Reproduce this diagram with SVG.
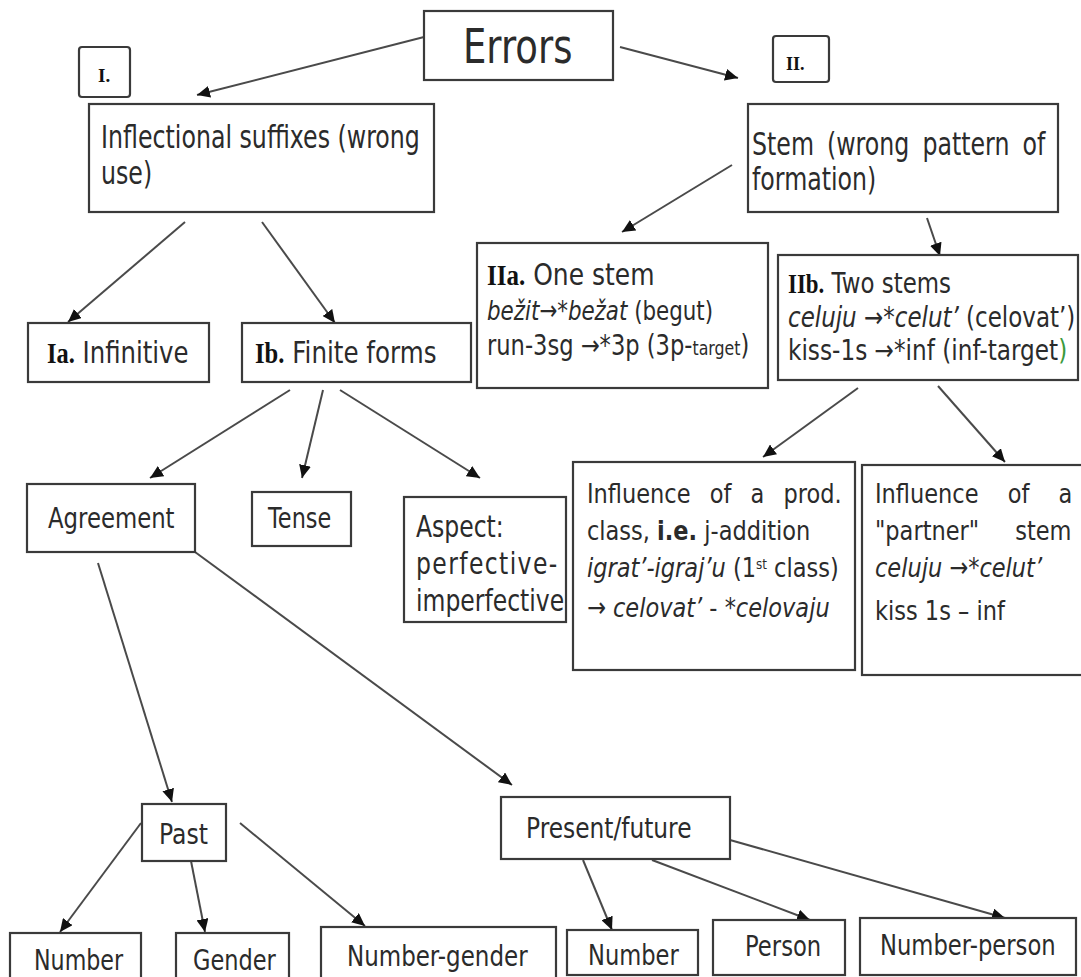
<svg xmlns="http://www.w3.org/2000/svg" width="1081" height="977" viewBox="0 0 1081 977">
<style>
.box{fill:#fff;stroke:#3a3a3a;stroke-width:2.2}
.t{font-family:"DejaVu Sans","Liberation Sans",sans-serif;fill:#2b2b2b}
.b{font-family:"Liberation Serif",serif;font-weight:bold;fill:#111}
.i{font-style:italic}
.bd{font-weight:bold}
.con line{stroke:#4a4a4a;stroke-width:2;marker-end:url(#ah)}
</style>
<defs>
<marker id="ah" markerUnits="userSpaceOnUse" markerWidth="14" markerHeight="12" refX="13" refY="6" orient="auto"><path d="M0,0 L13,6 L0,12 z" fill="#111"/></marker>
</defs>
<rect width="1081" height="977" fill="#fff"/>

<g id="connectors" class="con">
<line x1="424" y1="37" x2="197" y2="95"/>
<line x1="620" y1="47" x2="738" y2="78"/>
<line x1="185" y1="222" x2="68" y2="322"/>
<line x1="262" y1="222" x2="335" y2="323"/>
<line x1="732" y1="165" x2="622" y2="232"/>
<line x1="927" y1="218" x2="940" y2="256"/>
<line x1="290" y1="390" x2="150" y2="478"/>
<line x1="323" y1="390" x2="302" y2="478"/>
<line x1="340" y1="390" x2="480" y2="478"/>
<line x1="858" y1="388" x2="763" y2="457"/>
<line x1="938" y1="386" x2="1005" y2="462"/>
<line x1="98" y1="563" x2="172" y2="802"/>
<line x1="195" y1="552" x2="512" y2="785"/>
<line x1="141" y1="823" x2="60" y2="932"/>
<line x1="191" y1="861" x2="205" y2="932"/>
<line x1="240" y1="823" x2="365" y2="926"/>
<line x1="583" y1="860" x2="612" y2="930"/>
<line x1="652" y1="860" x2="810" y2="920"/>
<line x1="730" y1="840" x2="1005" y2="918"/>
</g>

<g id="errors"><rect class="box" x="424" y="11" width="189" height="69"/>
<text class="t" x="463" y="63" font-size="37" transform="matrix(1,0,0,1.3,0,-18.9)">Errors</text></g>

<g id="label-I"><rect class="box" x="79" y="47" width="51" height="50" rx="3"/>
<text class="b" x="98" y="82" font-size="19">I.</text></g>

<g id="label-II"><rect class="box" x="773" y="36" width="56" height="46" rx="3"/>
<text class="b" x="786" y="70" font-size="18">II.</text></g>

<g id="inflectional"><rect class="box" x="89" y="104" width="345" height="108"/>
<text class="t" x="101" y="148" font-size="23.7" transform="matrix(1,0,0,1.33,0,-48.84)">Inflectional suffixes (wrong</text>
<text class="t" x="101" y="184" font-size="23.7" transform="matrix(1,0,0,1.33,0,-60.72)">use)</text></g>

<g id="stem"><rect class="box" x="748" y="104" width="310" height="108"/>
<text class="t" x="752" y="155" font-size="23.7" word-spacing="5.5" transform="matrix(1,0,0,1.33,0,-51.15)">Stem (wrong pattern of</text>
<text class="t" x="752" y="190" font-size="23.7" transform="matrix(1,0,0,1.33,0,-62.7)">formation)</text></g>

<g id="IIa"><rect class="box" x="477" y="243" width="291" height="145"/>
<text class="t" x="487" y="285" font-size="25" transform="matrix(1,0,0,1.2,0,-57)"><tspan class="b">IIa.</tspan> One stem</text>
<text class="t" x="487" y="320" font-size="21.4" transform="matrix(1,0,0,1.28,0,-89.6)"><tspan class="i">bežit→*bežat</tspan> (begut)</text>
<text class="t" x="487" y="355" font-size="22.6" transform="matrix(1,0,0,1.22,0,-78.1)">run-3sg →*3p (3p-<tspan font-size="15.8">target</tspan>)</text></g>

<g id="IIb"><rect class="box" x="778" y="255" width="300" height="125"/>
<text class="t" x="788" y="293" font-size="22.9" transform="matrix(1,0,0,1.22,0,-64.46)"><tspan class="b">IIb.</tspan> Two stems</text>
<text class="t" x="788" y="327" font-size="23" transform="matrix(1,0,0,1.22,0,-71.94)"><tspan class="i">celuju →*celut’</tspan> (celovat’)</text>
<text class="t" x="788" y="360" font-size="23.2" transform="matrix(1,0,0,1.22,0,-79.2)">kiss-1s →*inf (inf-target<tspan fill="#3c9a3c">)</tspan></text></g>

<g id="Ia"><rect class="box" x="28" y="323" width="181" height="59"/>
<text class="t" x="47" y="363" font-size="24.4" transform="matrix(1,0,0,1.24,0,-87.12)"><tspan class="b">Ia.</tspan> Infinitive</text></g>

<g id="Ib"><rect class="box" x="242" y="323" width="229" height="59"/>
<text class="t" x="255" y="363" font-size="24.6" transform="matrix(1,0,0,1.24,0,-87.12)"><tspan class="b">Ib.</tspan> Finite forms</text></g>

<g id="agreement"><rect class="box" x="27" y="484" width="168" height="68"/>
<text class="t" x="48" y="528" font-size="22.8" transform="matrix(1,0,0,1.27,0,-142.56)">Agreement</text></g>

<g id="tense"><rect class="box" x="252" y="492" width="99" height="54"/>
<text class="t" x="268" y="528" font-size="22.4" transform="matrix(1,0,0,1.27,0,-142.56)">Tense</text></g>

<g id="aspect"><rect class="box" x="404" y="497" width="162" height="125"/>
<text class="t" x="416" y="537" font-size="23.5" transform="matrix(1,0,0,1.25,0,-134.25)">Aspect:</text>
<text class="t" x="416" y="574" font-size="23.5" letter-spacing="1.4" transform="matrix(1,0,0,1.25,0,-143.5)">perfective-</text>
<text class="t" x="416" y="611" font-size="23.5" transform="matrix(1,0,0,1.25,0,-152.75)">imperfective</text></g>

<g id="influence-class"><rect class="box" x="573" y="462" width="282" height="208"/>
<text class="t" x="587" y="503" font-size="22.5" word-spacing="12" transform="matrix(1,0,0,1.22,0,-110.66)">Influence of a prod.</text>
<text class="t" x="587" y="540" font-size="22.5" transform="matrix(1,0,0,1.22,0,-118.8)">class, <tspan class="bd">i.e.</tspan> j-addition</text>
<text class="t" x="587" y="577" font-size="22.5" transform="matrix(1,0,0,1.22,0,-126.94)"><tspan class="i">igrat’-igraj’u</tspan> (1<tspan font-size="12" baseline-shift="super">st</tspan> class)</text>
<text class="t" x="587" y="617" font-size="22.5" transform="matrix(1,0,0,1.22,0,-135.74)">→ <tspan class="i">celovat’</tspan> - <tspan class="i">*celovaju</tspan></text></g>

<g id="influence-partner"><rect class="box" x="862" y="465" width="230" height="210"/>
<text class="t" x="875" y="503" font-size="22.5" word-spacing="22" transform="matrix(1,0,0,1.22,0,-110.66)">Influence of a</text>
<text class="t" x="875" y="540" font-size="22.5" word-spacing="29" transform="matrix(1,0,0,1.22,0,-118.8)">"partner" stem</text>
<text class="t i" x="875" y="577" font-size="22.5" transform="matrix(1,0,0,1.22,0,-126.94)">celuju →*celut’</text>
<text class="t" x="875" y="620" font-size="22.5" transform="matrix(1,0,0,1.22,0,-136.4)">kiss 1s – inf</text></g>

<g id="past"><rect class="box" x="142" y="804" width="84" height="57"/>
<text class="t" x="159" y="844" font-size="23.5" transform="matrix(1,0,0,1.23,0,-194.12)">Past</text></g>

<g id="present-future"><rect class="box" x="501" y="797" width="229" height="62"/>
<text class="t" x="526" y="838" font-size="23.3" transform="matrix(1,0,0,1.23,0,-192.74)">Present/future</text></g>

<g id="number-past"><rect class="box" x="10" y="933" width="131" height="60"/>
<text class="t" x="34" y="970" font-size="22.2" transform="matrix(1,0,0,1.27,0,-261.9)">Number</text></g>

<g id="gender"><rect class="box" x="176" y="933" width="113" height="60"/>
<text class="t" x="193" y="970" font-size="22.5" transform="matrix(1,0,0,1.27,0,-261.9)">Gender</text></g>

<g id="number-gender"><rect class="box" x="321" y="927" width="235" height="60"/>
<text class="t" x="347" y="966" font-size="23" transform="matrix(1,0,0,1.27,0,-260.82)">Number-gender</text></g>

<g id="number-present"><rect class="box" x="567" y="930" width="131" height="45"/>
<text class="t" x="588" y="965" font-size="22.6" transform="matrix(1,0,0,1.27,0,-260.55)">Number</text></g>

<g id="person"><rect class="box" x="713" y="920" width="132" height="55"/>
<text class="t" x="745" y="956" font-size="22.7" transform="matrix(1,0,0,1.27,0,-258.12)">Person</text></g>

<g id="number-person"><rect class="box" x="860" y="918" width="216" height="57"/>
<text class="t" x="880" y="955" font-size="22.7" transform="matrix(1,0,0,1.27,0,-257.85)">Number-person</text></g>
</svg>
